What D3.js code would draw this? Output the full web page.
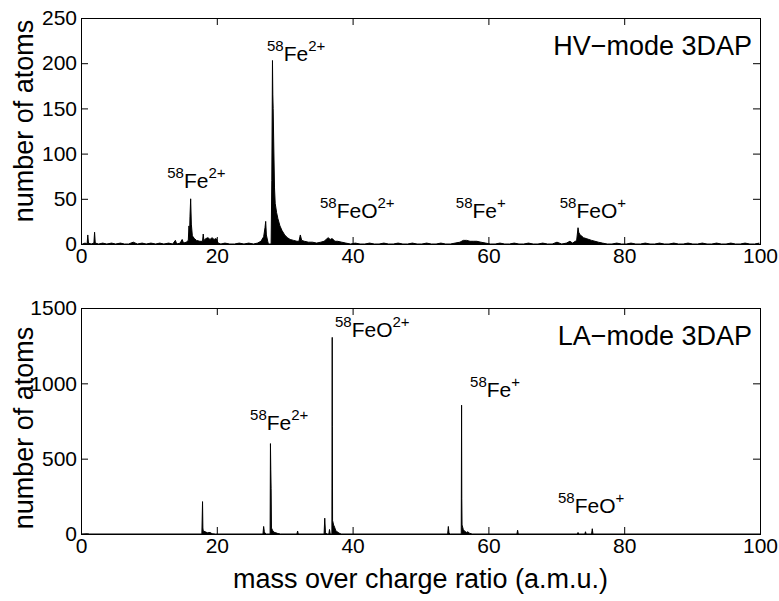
<!DOCTYPE html>
<html>
<head>
<meta charset="utf-8">
<script src="https://cdn.jsdelivr.net/npm/d3@7"></script>
<style>
  body { margin: 0; background: #fff; }
  svg { font-family: "Liberation Sans", Arial, Helvetica, sans-serif; }
  .tick text { font-size: 21px; fill: #000; }
  .tick line { stroke: #000; }
</style>
</head>
<body>
<script>
// mass axis ticks, count axis ticks
var massTicks = [0, 20, 40, 60, 80, 100];
var hvTicks = [0, 50, 100, 150, 200, 250];
var laTicks = [0, 500, 1000, 1500];

// HV-mode spectrum (mass, counts)
var hvMass = [
  0.2, 0.6, 0.9, 1.0, 1.1, 1.5, 1.9, 2.0, 2.1, 2.6,
  3.2, 3.8, 4.5, 5.1, 5.8, 6.4, 7.0, 7.7, 8.3, 9.0,
  9.6, 10.3, 11.0, 11.6, 12.2, 12.9, 13.5, 13.9, 14.1, 14.6,
  14.9, 15.1, 15.5, 15.8, 15.9, 16.0, 16.05, 16.15, 16.25, 16.4,
  16.7, 17.0, 17.5, 17.9, 18.0, 18.1, 18.4, 18.7, 19.0, 19.3,
  19.6, 19.9, 20.2, 20.6, 21.2, 21.9, 22.6, 23.3, 24.0, 24.7,
  25.4, 26.0, 26.5, 26.9, 27.1, 27.2, 27.3, 27.5, 27.6, 28.0,
  28.1, 28.2, 28.25, 28.3, 28.4, 28.5, 28.6, 28.8, 29.0, 29.3,
  29.6, 30.0, 30.4, 30.8, 31.3, 31.8, 32.1, 32.3, 32.5, 32.9,
  33.5, 34.1, 34.7, 35.3, 35.8, 36.1, 36.4, 36.7, 37.0, 37.4,
  37.8, 38.4, 39.0, 39.7, 40.4, 41.1, 41.8, 42.5, 43.2, 43.9,
  44.6, 45.3, 46.0, 46.7, 47.4, 48.1, 48.8, 49.5, 50.2, 50.9,
  51.6, 52.3, 53.0, 53.7, 54.4, 55.1, 55.8, 56.3, 56.8, 57.3,
  57.8, 58.3, 58.9, 59.6, 60.3, 61.0, 61.7, 62.4, 63.1, 63.8,
  64.5, 65.2, 65.9, 66.6, 67.3, 68.0, 68.7, 69.4, 70.1, 70.8,
  71.5, 72.0, 72.4, 72.8, 73.0, 73.2, 73.3, 73.5, 73.7, 74.0,
  74.4, 74.8, 75.2, 75.7, 76.2, 76.8, 77.5, 78.2, 78.9, 79.6,
  80.3, 81.0, 81.7, 82.4, 83.1, 83.8, 84.5, 85.2, 85.9, 86.6,
  87.3, 88.0, 88.7, 89.4, 90.1, 90.8, 91.5, 92.2, 92.9, 93.6,
  94.3, 95.0, 95.7, 96.4, 97.1, 97.8, 98.5, 99.2, 99.9
];
var hvCounts = [
  0, 1, 0, 10, 1, 0, 1, 13, 1, 0,
  1, 0, 1, 0, 1, 0, 0, 2, 0, 1,
  0, 1, 0, 1, 0, 1, 0, 4, 0, 1,
  5, 1, 2, 4, 20, 12, 30, 50, 22, 9,
  6, 4, 3, 3, 11, 4, 6, 7, 5, 7,
  5, 6, 1, 0, 1, 0, 0, 1, 0, 1,
  0, 1, 3, 8, 18, 25, 10, 3, 0, 0,
  70, 203, 165, 150, 104, 62, 45, 35, 28, 20,
  15, 10, 7, 5, 4, 3, 3, 10, 4, 3,
  2, 2, 1, 2, 3, 5, 7, 5, 6, 3,
  3, 2, 1, 0, 1, 0, 0, 1, 0, 0,
  1, 0, 0, 1, 0, 0, 1, 0, 0, 1,
  0, 0, 1, 0, 0, 1, 2, 4, 4, 3,
  3, 3, 2, 1, 0, 0, 1, 0, 0, 1,
  0, 0, 1, 0, 0, 1, 0, 0, 2, 0,
  1, 3, 1, 3, 4, 18, 13, 10, 9, 7,
  6, 5, 4, 3, 2, 1, 0, 0, 1, 0,
  0, 1, 0, 0, 1, 0, 0, 1, 0, 0,
  1, 0, 0, 1, 0, 0, 1, 0, 0, 1,
  0, 0, 1, 0, 0, 1, 0, 0, 1
];

// LA-mode spectrum (mass, counts)
var laMass = [
  0.0, 1.0, 1.2, 17.8, 17.9, 17.95, 18.0, 18.3, 18.6, 19.0, 19.3, 19.8,
  26.8, 26.9, 27.0, 27.1, 27.3,
  27.85, 27.9, 27.95, 28.0, 28.05, 28.2, 28.4, 28.7, 29.0, 29.4,
  31.8, 31.9, 32.0,
  35.8, 35.9, 36.0, 36.2, 36.5, 36.6, 36.7,
  36.95, 37.0, 37.02, 37.05, 37.2, 37.35, 37.5, 37.7, 38.0, 38.3,
  54.0, 54.1, 54.2, 54.4,
  56.0, 56.05, 56.08, 56.12, 56.3, 56.5, 56.8, 57.0, 57.2, 57.6,
  64.2, 64.3, 64.4,
  73.1, 73.2, 73.3, 74.2, 74.3, 74.4, 75.2, 75.3, 75.4, 100
];
var laCounts = [
  0, 2, 0, 0, 215, 40, 20, 15, 8, 10, 2, 0,
  0, 50, 15, 5, 0,
  0, 600, 430, 300, 40, 25, 12, 8, 3, 0,
  0, 20, 0,
  0, 105, 10, 0, 0, 30, 0,
  0, 1305, 715, 90, 60, 45, 25, 15, 6, 0,
  0, 50, 5, 0,
  0, 855, 235, 60, 30, 18, 10, 15, 5, 0,
  0, 25, 0,
  0, 10, 0, 0, 15, 0, 0, 35, 0, 0
];

// peak labels: ion, charge, anchor in data units
var hvIons = [
  { ion: "Fe", sup: "2+", m: 12.7, n: 62 },
  { ion: "Fe", sup: "2+", m: 27.4, n: 202 },
  { ion: "FeO", sup: "2+", m: 35.2, n: 29 },
  { ion: "Fe", sup: "+", m: 55.2, n: 29 },
  { ion: "FeO", sup: "+", m: 70.5, n: 29 }
];
var laIons = [
  { ion: "Fe", sup: "2+", m: 24.9, n: 690 },
  { ion: "FeO", sup: "2+", m: 37.4, n: 1307 },
  { ion: "Fe", sup: "+", m: 57.3, n: 909 },
  { ion: "FeO", sup: "+", m: 70.25, n: 139 }
];

var W = 779, H = 601;
var left = 81, right = 760;
var tick = 7;

var svg = d3.select("body").append("svg")
  .attr("width", W).attr("height", H);

var x = d3.scaleLinear().domain([0, 100]).range([left, right]);

function panel(top, bottom, yMax, yTicks, mass, counts, ions, title, id, ylabY) {
  var y = d3.scaleLinear().domain([0, yMax]).range([bottom, top]);
  var g = svg.append("g");

  g.append("clipPath").attr("id", id)
    .append("rect").attr("x", left).attr("y", top)
    .attr("width", right - left).attr("height", bottom - top);

  var pts = d3.zip(mass, counts);
  var area = d3.area()
    .x(function (d) { return x(d[0]); })
    .y0(y(0))
    .y1(function (d) { return y(d[1]); });
  var line = d3.line()
    .x(function (d) { return x(d[0]); })
    .y(function (d) { return y(d[1]); });

  g.append("path").datum(pts)
    .attr("clip-path", "url(#" + id + ")")
    .attr("d", area).attr("fill", "#000");
  g.append("path").datum(pts)
    .attr("clip-path", "url(#" + id + ")")
    .attr("d", line).attr("fill", "none")
    .attr("stroke", "#000").attr("stroke-width", 1);

  // axes with inward ticks
  g.append("g").attr("transform", "translate(0," + bottom + ")")
    .call(d3.axisBottom(x).tickValues(massTicks).tickSizeInner(-tick).tickSizeOuter(0).tickPadding(4))
    .call(function (a) { a.select(".domain").remove(); });
  g.append("g").attr("transform", "translate(0," + top + ")")
    .call(d3.axisTop(x).tickValues(massTicks).tickSizeInner(-tick).tickSizeOuter(0).tickFormat(""))
    .call(function (a) { a.select(".domain").remove(); });
  g.append("g").attr("transform", "translate(" + left + ",0)")
    .call(d3.axisLeft(y).tickValues(yTicks).tickFormat(d3.format("d")).tickSizeInner(-tick).tickSizeOuter(0).tickPadding(4))
    .call(function (a) { a.select(".domain").remove(); });
  g.append("g").attr("transform", "translate(" + right + ",0)")
    .call(d3.axisRight(y).tickValues(yTicks).tickSizeInner(-tick).tickSizeOuter(0).tickFormat(""))
    .call(function (a) { a.select(".domain").remove(); });

  g.append("rect").attr("x", left + 0.5).attr("y", top + 0.5)
    .attr("width", right - left).attr("height", bottom - top)
    .attr("fill", "none").attr("stroke", "#000");

  g.append("text")
    .attr("transform", "translate(33," + ylabY + ") rotate(-90)")
    .attr("text-anchor", "middle").attr("font-size", 27)
    .text("number of atoms");

  g.append("text").attr("x", 752).attr("y", top + 37)
    .attr("text-anchor", "end").attr("font-size", 27)
    .text(title);

  ions.forEach(function (d) {
    var t = g.append("text").attr("x", x(d.m)).attr("y", y(d.n)).attr("font-size", 21);
    t.append("tspan").attr("font-size", 15).attr("dy", -10).text("58");
    t.append("tspan").attr("dy", 10).text(d.ion);
    t.append("tspan").attr("font-size", 15).attr("dy", -10).text(d.sup);
  });
}

panel(18, 244, 250, hvTicks, hvMass, hvCounts, hvIons, "HV\u2212mode 3DAP", "clipHV", 121);
panel(308, 534, 1500, laTicks, laMass, laCounts, laIons, "LA\u2212mode 3DAP", "clipLA", 428);

svg.append("text")
  .attr("x", (left + right) / 2).attr("y", 588)
  .attr("text-anchor", "middle").attr("font-size", 27)
  .text("mass over charge ratio (a.m.u.)");
</script>
</body>
</html>
